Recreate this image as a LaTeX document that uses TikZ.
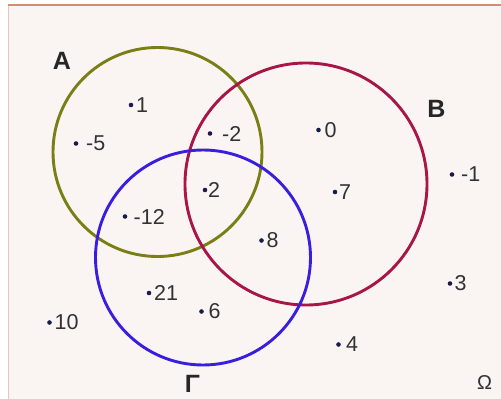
\documentclass[tikz,border=0pt]{standalone}
\usepackage{fontspec}
\setmainfont{Liberation Sans}
\usepackage{xcolor}
\usetikzlibrary{calc, positioning}

\definecolor{paper}{RGB}{250,245,242}
\definecolor{edge}{RGB}{214,140,112}
\definecolor{setA}{RGB}{122,126,22}
\definecolor{setB}{RGB}{168,22,72}
\definecolor{setG}{RGB}{58,30,222}
\definecolor{dotc}{RGB}{26,26,78}
\definecolor{numc}{RGB}{50,50,50}

\tikzset{
    setring/.style={circle, draw, line width=2.9pt, inner sep=0pt},
    setname/.style={font=\fontsize{25}{28}\selectfont\bfseries, text=black!85, inner sep=0pt},
    num/.style={font=\fontsize{21.5}{24}\selectfont, text=numc, inner sep=0pt, anchor=west}
}

\begin{document}
\begin{tikzpicture}[x=1pt, y=-1pt]
    % Khung nền
    \useasboundingbox (0,0) rectangle (501,399);
    \fill[paper] (8,6) rectangle (501,399);
    \draw[edge!50, line width=1pt] (8.5,6) -- (8.5,399);
    \draw[edge, line width=2.5pt] (8,5) -- (501,5);

    % Ba tập hợp
    \node[setring, draw=setA, minimum size=209pt] (A) at (157.5,152) {};
    \node[setring, draw=setB, minimum size=242pt] (B) at (306,184) {};
    \node[setring, draw=setG, minimum size=215pt] (G) at (203,257.5) {};

    \node[setname] (nA) at (62,61) {A};
    \node[setname] (nB) at (436.5,109) {B};
    \node[setname] (nG) at (192.5,384) {Γ};
    \node[font=\fontsize{20}{22}\selectfont, text=black!80, inner sep=0pt] (nO) at (484.5,383) {Ω};

    % Các phần tử
    \foreach \n/\x/\y/\tx/\t in {one/131/105/136/1, mfive/76/143.5/86/-5,
        mtwo/210/133.5/222/-2, zero/318.5/130/324.5/0, two/205/190/208/2,
        seven/335/192/339/7, mtwelve/125/216.5/133.5/-12, eight/261.5/240.5/266.5/8,
        twentyone/149/293/154/21, six/201.5/311.5/208.5/6, ten/49.5/322.5/54.5/10,
        four/338.5/344.5/346/4, mone/452/174.5/461/-1, three/450/283.5/454.5/3}
    {
        \coordinate (p\n) at (\x,\y);
        \fill[dotc] (p\n) circle (2.3pt);
        \node[num] (v\n) at (\tx,\y) {\t};
    }
\end{tikzpicture}
\end{document}
